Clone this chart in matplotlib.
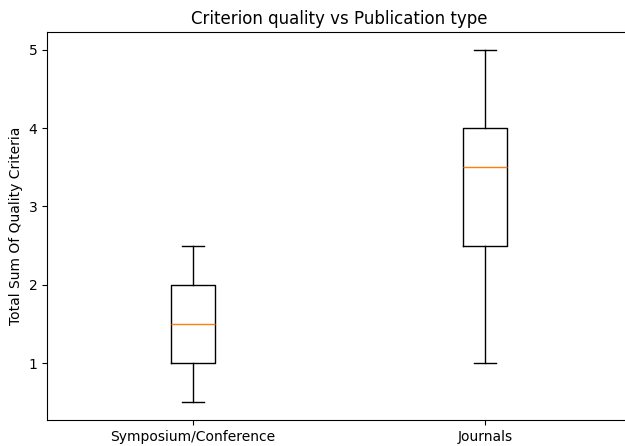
import matplotlib
matplotlib.use("Agg")
import matplotlib.pyplot as plt

categories = ["Symposium/Conference", "Journals"]
whislo = [0.5, 1.0]
q1 = [1.0, 2.5]
med = [1.5, 3.5]
q3 = [2.0, 4.0]
whishi = [2.5, 5.0]

stats = [
    dict(label=c, whislo=lo, q1=a, med=m, q3=b, whishi=hi, fliers=[])
    for c, lo, a, m, b, hi in zip(categories, whislo, q1, med, q3, whishi)
]

fig = plt.figure(figsize=(6.25, 4.46), dpi=100)
ax = fig.add_axes([47 / 625, 26 / 446, 584 / 625, 388 / 446])
ax.bxp(stats, showfliers=False)
ax.set_title("Criterion quality vs Publication type")
ax.set_ylabel("Total Sum Of Quality Criteria")
fig.savefig("out.png", dpi=100)
